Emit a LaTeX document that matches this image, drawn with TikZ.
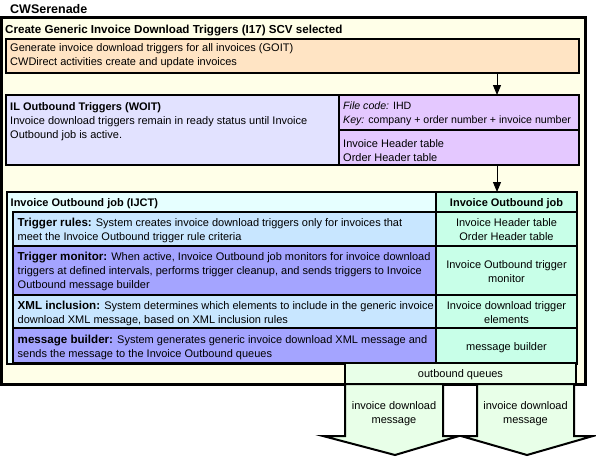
\documentclass[tikz,border=0pt]{standalone}
\usepackage{fontspec}
\setmainfont{Liberation Sans}
\usetikzlibrary{arrows.meta}
\definecolor{outerbg}{RGB}{255,255,232}
\definecolor{peach}{RGB}{255,228,196}
\definecolor{lav}{RGB}{226,226,255}
\definecolor{purp}{RGB}{228,200,255}
\definecolor{cyanbg}{RGB}{230,255,255}
\definecolor{lblue}{RGB}{200,230,255}
\definecolor{peri}{RGB}{164,164,255}
\definecolor{mint}{RGB}{200,255,232}
\definecolor{lgreen}{RGB}{232,255,232}
\tikzset{
  box/.style={draw=black, line width=2pt, rectangle, anchor=north west, inner sep=0pt, outer sep=0pt},
  txt/.style={anchor=base west, inner sep=0pt, align=left, font=\fontsize{11}{14}\selectfont},
  ctxt/.style={anchor=base, inner sep=0pt, align=center, font=\fontsize{11}{14}\selectfont},
  arr/.style={line width=1pt, -{Triangle[length=10pt,width=8pt]}},
  blockarrow/.style={draw=black, line width=2pt, fill=lgreen, line join=miter},
}
\newcommand{\lbl}[1]{{\fontsize{11.6}{14}\selectfont\bfseries #1}}
\begin{document}
\begin{tikzpicture}[x=1pt,y=-1pt]
\useasboundingbox (0,0) rectangle (596,456);
% outer frame
\node[box, line width=3pt, fill=outerbg, minimum width=583.5pt, minimum height=367pt] (outer) at (1.5,17) {};
\node[txt, font=\bfseries\fontsize{12.5}{14}\selectfont] (cws) at (10,13) {CWSerenade};
\node[txt, font=\bfseries\fontsize{11.6}{14}\selectfont] (title) at (5,33) {Create Generic Invoice Download Triggers (I17) SCV selected};
% GOIT
\node[box, fill=peach, minimum width=573pt, minimum height=34pt] (orange) at (6,39) {};
\node[txt] (goit) at (10,65) {Generate invoice download triggers for all invoices (GOIT)\\CWDirect activities create and update invoices};
% WOIT
\node[box, fill=lav, minimum width=333pt, minimum height=70pt] (woit) at (6,95) {};
\node[box, fill=purp, minimum width=240pt, minimum height=35pt] (fc) at (339,95) {};
\node[box, fill=purp, minimum width=240pt, minimum height=35pt] (tb) at (339,130) {};
\node[txt] (woittxt) at (10,138) {\textbf{IL Outbound Triggers (WOIT)}\\Invoice download triggers remain in ready status until Invoice\\Outbound job is active.};
\node[txt, font=\fontsize{10.6}{14}\selectfont] (fctxt) at (343,123) {\textit{File code:} IHD\\\textit{Key:} company + order number + invoice number};
\node[txt] (tbtxt) at (343,161) {Invoice Header table\\Order Header table};
% IJCT
\node[box, fill=cyanbg, minimum width=570pt, minimum height=172pt] (ijct) at (7,192) {};
\node[txt, font=\bfseries\fontsize{11}{14}\selectfont] (ijcttxt) at (10.5,206) {Invoice Outbound job (IJCT)};
\node[box, fill=mint, minimum width=141pt, minimum height=20pt] (hdr) at (436,192) {};
\node[ctxt, font=\bfseries\fontsize{11}{14}\selectfont] (hdrtxt) at (506.5,206) {Invoice Outbound job};
\node[box, fill=lblue, minimum width=423pt, minimum height=34pt] (r1) at (13,212) {};
\node[box, fill=mint, minimum width=141pt, minimum height=34pt] (c1) at (436,212) {};
\node[box, fill=peri, minimum width=423pt, minimum height=49pt] (r2) at (13,246) {};
\node[box, fill=mint, minimum width=141pt, minimum height=49pt] (c2) at (436,246) {};
\node[box, fill=lblue, minimum width=423pt, minimum height=33pt] (r3) at (13,295) {};
\node[box, fill=mint, minimum width=141pt, minimum height=33pt] (c3) at (436,295) {};
\node[box, fill=peri, minimum width=423pt, minimum height=35pt] (r4) at (13,328) {};
\node[box, fill=mint, minimum width=141pt, minimum height=35pt] (c4) at (436,328) {};
\node[txt] (r1txt) at (17.5,240) {\lbl{Trigger rules:} System creates invoice download triggers only for invoices that\\meet the Invoice Outbound trigger rule criteria};
\node[txt] (r2txt) at (17.5,288) {\lbl{Trigger monitor:} When active, Invoice Outbound job monitors for invoice download\\triggers at defined intervals, performs trigger cleanup, and sends triggers to Invoice\\Outbound message builder};
\node[txt] (r3txt) at (17.5,323) {\lbl{XML inclusion:} System determines which elements to include in the generic invoice\\download XML message, based on XML inclusion rules};
\node[txt] (r4txt) at (17.5,357) {\lbl{message builder:} System generates generic invoice download XML message and\\sends the message to the Invoice Outbound queues};
\node[ctxt] (c1txt) at (506.5,240) {Invoice Header table\\Order Header table};
\node[ctxt] (c2txt) at (506.5,282) {Invoice Outbound trigger\\monitor};
\node[ctxt] (c3txt) at (506.5,323) {Invoice download trigger\\elements};
\node[ctxt] (c4txt) at (506.5,350) {message builder};
% outbound queues
\node[box, fill=lgreen, minimum width=231pt, minimum height=21pt] (oq) at (345,363) {};
\node[ctxt] (oqtxt) at (460.5,377) {outbound queues};
% block arrows
\path[blockarrow] (345,384) -- (345,436) -- (323,436) -- (395,455) -- (459,436) -- (443,436) -- (443,384) -- cycle;
\path[blockarrow] (477,384) -- (477,436) -- (461,436) -- (527,455) -- (593,436) -- (574,436) -- (574,384) -- cycle;
\node[ctxt] (m1) at (394,423) {invoice download\\message};
\node[ctxt] (m2) at (525.5,423) {invoice download\\message};
% connectors
\coordinate (ax) at (497,0);
\draw[arr] (orange.south -| ax) -- (fc.north -| ax);
\draw[arr] (tb.south -| ax) -- (hdr.north -| ax);
\end{tikzpicture}
\end{document}
